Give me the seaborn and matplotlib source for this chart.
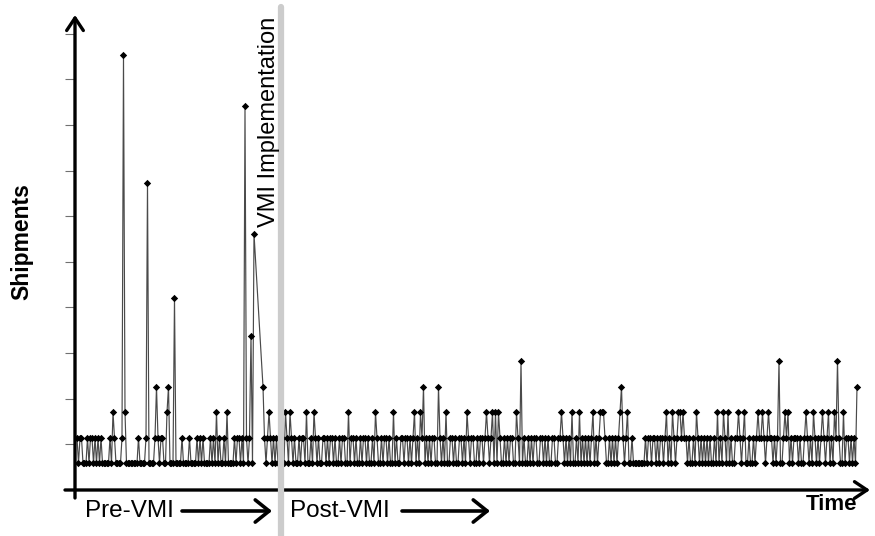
import numpy as np
import pandas as pd
import matplotlib
matplotlib.use("Agg")
import matplotlib.pyplot as plt
import seaborn as sns

# ---- data (shipment level per period; 0 = lowest level) ----
base_pattern_chunks = [
    "1011000101", "1010101000", "0010010000", "1000000000", "0100001000",
    "0010101100", "0000000000", "1000010000", "1010100001", "0100010010",
    "0000010110", "1001010000", "0000010101", "0101010100",
    # post-VMI
    "1011010010", "1101001011", "0100110101", "1010010110", "0101101001",
    "0110100101", "1001011010", "0101001101", "1010110100", "1001010110",
    "0110101001", "1010011010", "0101100101", "1010101100", "0110010101",
    "1001101010", "0101011001", "1010100110", "0110101010", "1001010101",
    "0101101010", "1010010101", "0110101000", "1000000001", "0110110101",
    "1011010110", "1101011010", "0101101010", "1010010101", "0110101001",
    "1010110010", "0101011010", "1011010100", "0101101011", "1010010101",
    "0110101010", "1001011010", "0101101010", "0",
]
spike_periods = [24, 31, 32, 47, 53, 60, 61, 65, 93, 100, 112, 116, 118, 124, 128,
                 139, 142, 153, 158, 181, 199, 211, 225, 229, 246, 260, 273, 277, 279,
                 281, 293, 323, 330, 335, 344, 349, 350, 351, 362, 367, 393, 397, 401,
                 402, 404, 413, 427, 431, 434, 441, 445, 454, 457, 461, 472, 474, 486,
                 491, 497, 501, 505, 511,
                 231, 241, 363, 520,
                 296, 468, 507]
spike_levels = [2, 16, 2, 11, 3, 2, 3, 6.5, 2, 2, 14, 5, 9, 3, 2,
                2, 2, 2, 2, 2, 2, 2, 2, 2, 2, 2, 2, 2, 2,
                2, 2, 2, 2, 2, 2, 2, 2, 2, 2, 2, 2, 2, 2,
                2, 2, 2, 2, 2, 2, 2, 2, 2, 2, 2, 2, 2, 2,
                2, 2, 2, 2, 2,
                3, 3, 3, 3,
                4, 4, 4]
missing_periods = [119, 120, 121, 122, 123]
vmi_period = 136

pattern = "".join(base_pattern_chunks)
levels = [float(c) for c in pattern]
for p, v in zip(spike_periods, spike_levels):
    levels[p] = v
df = pd.DataFrame({"period": np.arange(len(levels)), "level": levels})
df = df[~df["period"].isin(missing_periods)]

# ---- figure ----
sns.set_style("white")
plt.rcParams["font.family"] = ["Liberation Sans", "DejaVu Sans"]
plt.rcParams["text.color"] = "black"

W, H = 875, 536
fig = plt.figure(figsize=(W / 100, H / 100), dpi=100)
ax = fig.add_axes([75 / W, 46 / H, 795 / W, 475 / H])

sns.lineplot(data=df, x="period", y="level", ax=ax, color="#4a4a4a", lw=0.85,
             estimator=None, sort=True, zorder=2)
sns.scatterplot(data=df, x="period", y="level", ax=ax, marker="D", s=14,
                color="black", linewidth=0, zorder=3)

ax.set_xlim(-1.33, 528.67)
ax.set_ylim(-1.05, 17.58)
for s in ax.spines.values():
    s.set_visible(False)
ax.set_xticks([])
ax.set_yticks([-1.05 + 1.79 * k for k in range(1, 11)])
ax.tick_params(axis="y", left=True, direction="out", length=7, width=0.8,
               color="#707070", labelleft=False)
ax.set_xlabel("")
ax.set_ylabel("")

arrow_kw = dict(arrowstyle="->,head_length=0.45,head_width=0.3", lw=2.4,
                color="black", mutation_scale=20, shrinkA=0, shrinkB=0)
ax.annotate("", xy=(0, 1), xytext=(0, -8 / 475), xycoords="axes fraction",
            arrowprops=arrow_kw, annotation_clip=False)
ax.annotate("", xy=(1, 0), xytext=(-10 / 795, 0), xycoords="axes fraction",
            arrowprops=arrow_kw, annotation_clip=False)

ax.axvline(vmi_period, ymin=-46 / 475, ymax=483 / 475, color="#cccccc", lw=4.5,
           clip_on=False, zorder=5)

def fx(x):
    return x / W

def fy(y):
    return 1 - y / H

fig.text(fx(22), fy(242), "Shipments", rotation=90, fontsize=16.5, fontweight="bold",
         ha="center", va="center", color="black")
fig.text(fx(269), fy(122), "VMI Implementation", rotation=90, fontsize=17,
         ha="center", va="center", color="black")
fig.text(fx(85), fy(511), "Pre-VMI", fontsize=17.5, ha="left", va="center", color="black")
fig.text(fx(290), fy(511), "Post-VMI", fontsize=17.5, ha="left", va="center", color="black")
fig.text(fx(831), fy(504), "Time", fontsize=16, fontweight="bold",
         ha="center", va="center", color="black")

for x0, x1 in [(182, 272), (402, 490)]:
    fig.add_artist(matplotlib.patches.FancyArrowPatch(
        (fx(x0), fy(511)), (fx(x1), fy(511)), transform=fig.transFigure,
        arrowstyle="->,head_length=0.5,head_width=0.4", lw=2.6, color="black",
        mutation_scale=20, shrinkA=0, shrinkB=0))

fig.savefig("out.png", dpi=100)
